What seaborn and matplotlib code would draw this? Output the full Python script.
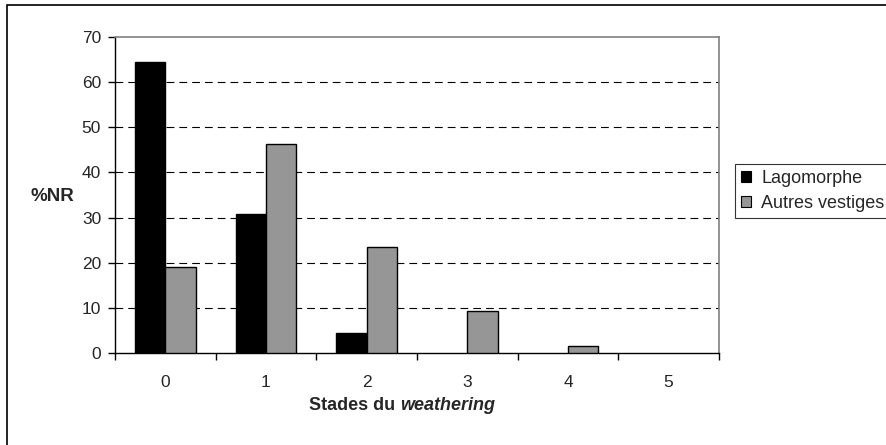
import numpy as np
import pandas as pd
import matplotlib
matplotlib.use("Agg")
import matplotlib.pyplot as plt
import seaborn as sns
from matplotlib.patches import Rectangle

# donnees
stades = ["0", "1", "2", "3", "4", "5"]
lagomorphe = [64.5, 30.8, 4.4, 0, 0, 0]
autres_vestiges = [19.1, 46.3, 23.5, 9.3, 1.5, 0]
series = ["Lagomorphe", "Autres vestiges"]
couleurs = ["#000000", "#969696"]

df = pd.DataFrame({
    "stade": stades * 2,
    "pct": lagomorphe + autres_vestiges,
    "serie": [series[0]] * len(stades) + [series[1]] * len(stades),
})

sns.set_style("white")
plt.rcParams["font.family"] = ["Liberation Sans", "DejaVu Sans"]

fig = plt.figure(figsize=(8.87, 4.45), dpi=100)
ax = fig.add_axes([115 / 887, 92 / 445, 604 / 887, 316 / 445])

sns.barplot(data=df, x="stade", y="pct", hue="serie", palette=couleurs,
            width=0.6, gap=0, edgecolor="black", linewidth=1.0,
            order=stades, hue_order=series, ax=ax, legend=False, zorder=3)

# pas de contour pour les barres nulles
for p in ax.patches:
    if p.get_height() == 0:
        p.set_linewidth(0)

ax.set_xlim(-0.5, 5.5)
ax.set_ylim(0, 70)
ax.set_yticks(np.arange(0, 71, 10))

# grille pointillee
for v in range(10, 70, 10):
    ax.axhline(v, color="black", lw=0.8, ls=(0, (7, 4.5)), zorder=1)

# ticks x aux limites de categories (style Excel)
ax.set_xticks(np.arange(-0.5, 6, 1))
ax.set_xticklabels([])
ax.set_xticks(np.arange(0, 6), minor=True)
ax.set_xticklabels(stades, minor=True)
ax.tick_params(axis="x", which="major", direction="out", length=5, width=1, color="black", bottom=True)
ax.tick_params(axis="x", which="minor", length=0, pad=16, labelsize=12.5)
ax.tick_params(axis="y", direction="out", length=5, width=1, color="black", left=True, pad=5, labelsize=12.5)

for s in ["left", "bottom"]:
    ax.spines[s].set_color("black")
    ax.spines[s].set_linewidth(1)
for s in ["top", "right"]:
    ax.spines[s].set_color("#808080")
    ax.spines[s].set_linewidth(1.2)

ax.set_xlabel("")
ax.set_ylabel("%NR", rotation=0, fontweight="bold", fontsize=13.5, va="center", ha="center")
ax.yaxis.set_label_coords(-0.104, 0.494)

ax.text(0.472, -0.165, "Stades du ", transform=ax.transAxes, ha="right", va="center",
        fontweight="bold", fontsize=13)
ax.text(0.472, -0.165, "weathering", transform=ax.transAxes, ha="left", va="center",
        fontweight="bold", fontstyle="italic", fontsize=13)

# legende
handles = [Rectangle((0, 0), 1, 1, facecolor=c, edgecolor="black", lw=0.8) for c in couleurs]
leg = fig.legend(handles, series, loc="upper left", bbox_to_anchor=(735 / 887, 1 - 164 / 445),
                 frameon=True, fancybox=False, fontsize=13, handlelength=0.55, handleheight=0.55,
                 handletextpad=0.55, borderpad=0.35, labelspacing=0.4, borderaxespad=0)
leg.get_frame().set_edgecolor("black")
leg.get_frame().set_linewidth(0.8)

# cadre exterieur
fig.patches.append(Rectangle((7 / 887, -0.1), 1.1, 1 - 5 / 445 + 0.1, transform=fig.transFigure,
                             fill=False, edgecolor="black", lw=1.2))

fig.savefig("out.png", dpi=100)
